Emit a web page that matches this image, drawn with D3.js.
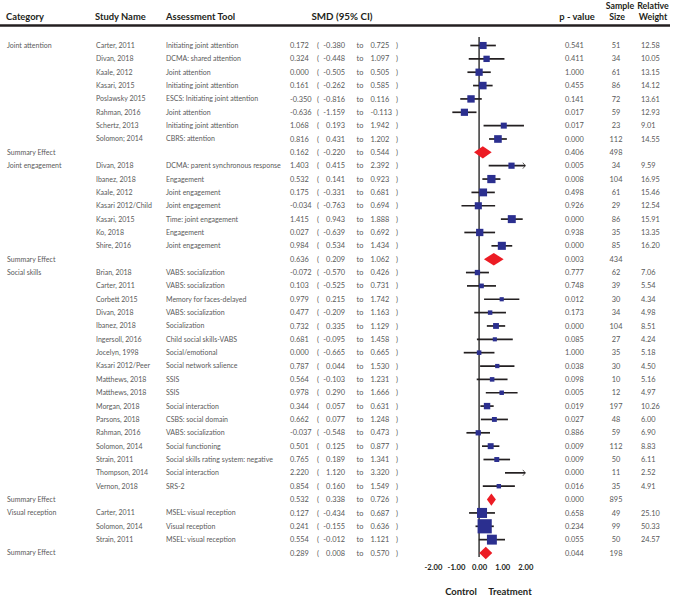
<!DOCTYPE html>
<html><head><meta charset="utf-8">
<script src="https://cdn.jsdelivr.net/npm/d3@7"></script>
<style>body{margin:0;background:#fff} svg{display:block}</style>
</head><body><svg id="c" width="675" height="596"></svg>
<script>
// ---------------- data ----------------
const categories = ["Joint attention", "Joint engagement", "Social skills", "Visual reception"];
const studyCategory = [0,0,0,0,0,0,0,0, 1,1,1,1,1,1,1, 2,2,2,2,2,2,2,2,2,2,2,2,2,2,2,2,2, 3,3,3];
const studyNames = [
  "Carter, 2011","Divan, 2018","Kaale, 2012","Kasari, 2015","Poslawsky 2015","Rahman, 2016","Schertz, 2013","Solomon; 2014",
  "Divan, 2018","Ibanez, 2018","Kaale, 2012","Kasari 2012/Child","Kasari, 2015","Ko, 2018","Shire, 2016",
  "Brian, 2018","Carter, 2011","Corbett 2015","Divan, 2018","Ibanez, 2018","Ingersoll, 2016","Jocelyn, 1998","Kasari 2012/Peer",
  "Matthews, 2018","Matthews, 2018","Morgan, 2018","Parsons, 2018","Rahman, 2016","Solomon, 2014","Strain, 2011","Thompson, 2014","Vernon, 2018",
  "Carter, 2011","Solomon, 2014","Strain, 2011"];
const tools = [
  "Initiating joint attention","DCMA: shared attention","Joint attention","Initiating joint attention","ESCS: Initiating joint attention","Joint attention","Initiating joint attention","CBRS: attention",
  "DCMA: parent synchronous response","Engagement","Joint engagement","Joint engagement","Time: joint engagement","Engagement","Joint engagement",
  "VABS: socialization","VABS: socialization","Memory for faces-delayed","VABS: socialization","Socialization","Child social skills-VABS","Social/emotional","Social network salience",
  "SSIS","SSIS","Social interaction","CSBS: social domain","VABS: socialization","Social functioning","Social skills rating system: negative","Social interaction","SRS-2",
  "MSEL: visual reception","Visual reception","MSEL: visual reception"];
const smd = [0.172,0.324,0.000,0.161,-0.350,-0.636,1.068,0.816,
  1.403,0.532,0.175,-0.034,1.415,0.027,0.984,
  -0.072,0.103,0.979,0.477,0.732,0.681,0.000,0.787,0.564,0.978,0.344,0.662,-0.037,0.501,0.765,2.220,0.854,
  0.127,0.241,0.554];
const ciLow = [-0.380,-0.448,-0.505,-0.262,-0.816,-1.159,0.193,0.431,
  0.415,0.141,-0.331,-0.763,0.943,-0.639,0.534,
  -0.570,-0.525,0.215,-0.209,0.335,-0.095,-0.665,0.044,-0.103,0.290,0.057,0.077,-0.548,0.125,0.189,1.120,0.160,
  -0.434,-0.155,-0.012];
const ciHigh = [0.725,1.097,0.505,0.585,0.116,-0.113,1.942,1.202,
  2.392,0.923,0.681,0.694,1.888,0.692,1.434,
  0.426,0.731,1.742,1.163,1.129,1.458,0.665,1.530,1.231,1.666,0.631,1.248,0.473,0.877,1.341,3.320,1.549,
  0.687,0.636,1.121];
const pValues = [0.541,0.411,1.000,0.455,0.141,0.017,0.017,0.000,
  0.005,0.008,0.498,0.926,0.000,0.938,0.000,
  0.777,0.748,0.012,0.173,0.000,0.085,1.000,0.038,0.098,0.005,0.019,0.027,0.886,0.009,0.009,0.000,0.016,
  0.658,0.234,0.055];
const sampleSizes = [51,34,61,86,72,59,23,112, 34,104,61,29,86,35,85,
  62,39,30,34,104,27,35,30,10,12,197,48,59,112,50,11,35, 49,99,50];
const weights = [12.58,10.05,13.15,14.12,13.61,12.93,9.01,14.55,
  9.59,16.95,15.46,12.54,15.91,13.35,16.20,
  7.06,5.54,4.34,4.98,8.51,4.24,5.18,4.50,5.16,4.97,10.26,6.00,6.90,8.83,6.11,2.52,4.91,
  25.10,50.33,24.57];
const summarySMD = [0.162, 0.636, 0.532, 0.289];
const summaryLow = [-0.220, 0.209, 0.338, 0.008];
const summaryHigh = [0.544, 1.062, 0.726, 0.570];
const summaryP = [0.406, 0.003, 0.000, 0.044];
const summaryN = [498, 434, 895, 198];
const xTicks = [-2, -1, 0, 1, 2];

// ---------------- build rows ----------------
const rows = [];
categories.forEach((cat, ci) => {
  let first = true;
  studyNames.forEach((n, i) => {
    if (studyCategory[i] !== ci) return;
    rows.push({type: "study", cat: first ? cat : "", name: n, tool: tools[i], est: smd[i], lo: ciLow[i], hi: ciHigh[i], p: pValues[i], n: sampleSizes[i], w: weights[i]});
    first = false;
  });
  rows.push({type: "summary", cat: "Summary Effect", name: "", tool: "", est: summarySMD[ci], lo: summaryLow[ci], hi: summaryHigh[ci], p: summaryP[ci], n: summaryN[ci], w: null});
});

const loc = d3.formatLocale({decimal: ".", thousands: ",", grouping: [3], currency: ["", ""], minus: "-"});
const f3 = loc.format(".3f"), f2 = loc.format(".2f");

const svg = d3.select("#c");
const FONT = "Lato, 'Open Sans', sans-serif";
const bodyCol = "#5a5a5a";
const headCol = "#231f20";

const y = d3.scalePoint().domain(d3.range(rows.length)).range([45.5, 553]);
const x = d3.scaleLinear().domain([-2, 2]).range([432.9, 525.3]);

// ---------------- header ----------------
const hdr = svg.append("g").attr("font-family", FONT).attr("font-weight", 700).attr("font-size", 9.4).attr("fill", headCol);
hdr.append("text").attr("x", 6).attr("y", 19.5).text("Category");
hdr.append("text").attr("x", 95).attr("y", 19.5).text("Study Name");
hdr.append("text").attr("x", 166).attr("y", 19.5).text("Assessment Tool");
hdr.append("text").attr("x", 342).attr("y", 19.5).attr("text-anchor", "middle").attr("font-size", 9.8).text("SMD (95% CI)");
hdr.append("text").attr("x", 577).attr("y", 19.5).attr("text-anchor", "middle").text("p - value");
hdr.append("text").attr("x", 620).attr("y", 9).attr("text-anchor", "middle").attr("font-size", 8.8).text("Sample");
hdr.append("text").attr("x", 617).attr("y", 19.5).attr("text-anchor", "middle").attr("font-size", 8.8).text("Size");
hdr.append("text").attr("x", 653).attr("y", 9).attr("text-anchor", "middle").attr("font-size", 8.8).text("Relative");
hdr.append("text").attr("x", 653).attr("y", 19.5).attr("text-anchor", "middle").attr("font-size", 8.8).text("Weight");
svg.append("line").attr("x1", 0).attr("x2", 670).attr("y1", 25.5).attr("y2", 25.5)
  .attr("stroke", headCol).attr("stroke-width", 2.5);

// ---------------- text table ----------------
const tbl = svg.append("g").attr("font-family", FONT).attr("font-size", 7).attr("fill", bodyCol);
const rg = tbl.selectAll("g.row").data(rows).join("g").attr("class", "row")
  .attr("transform", (d, i) => `translate(0,${y(i)})`);
rg.append("text").attr("x", 7).attr("dy", "0.35em").text(d => d.cat);
rg.append("text").attr("x", 96).attr("dy", "0.35em").text(d => d.name);
rg.append("text").attr("x", 166).attr("dy", "0.35em").text(d => d.tool);
rg.append("text").attr("x", 290).attr("dy", "0.35em").attr("font-size", 7.4).text(d => f3(d.est));
rg.append("text").attr("x", 317).attr("dy", "0.35em").attr("font-size", 7.4).text("(");
rg.append("text").attr("x", 345).attr("dy", "0.35em").attr("font-size", 7.4).attr("text-anchor", "end").text(d => f3(d.lo));
rg.append("text").attr("x", 356.5).attr("dy", "0.35em").attr("font-size", 7.4).text("to");
rg.append("text").attr("x", 370.5).attr("dy", "0.35em").attr("font-size", 7.4).text(d => f3(d.hi));
rg.append("text").attr("x", 396).attr("dy", "0.35em").attr("font-size", 7.4).text(")");
rg.append("text").attr("x", 565).attr("dy", "0.35em").attr("font-size", 7.4).text(d => f3(d.p));
rg.append("text").attr("x", 616).attr("dy", "0.35em").attr("font-size", 7.4).attr("text-anchor", "middle").text(d => d.n);
rg.append("text").attr("x", 641).attr("dy", "0.35em").attr("font-size", 7.4).text(d => d.w == null ? "" : f2(d.w));

// ---------------- forest plot ----------------
const plot = svg.append("g");
plot.append("line").attr("x1", x(0)).attr("x2", x(0)).attr("y1", 37).attr("y2", 557)
  .attr("stroke", "#444").attr("stroke-width", 1.6);

const [dMin, dMax] = x.domain();
rows.forEach((d, i) => {
  const cy = y(i);
  if (d.type === "study") {
    const lo = Math.max(d.lo, dMin), hi = Math.min(d.hi, dMax);
    plot.append("line").attr("x1", x(lo)).attr("x2", x(hi)).attr("y1", cy).attr("y2", cy)
      .attr("stroke", "#231f20").attr("stroke-width", 1.7);
    if (d.hi > dMax) {
      plot.append("path").attr("d", `M${x(dMax) - 2.5},${cy - 3}L${x(dMax)},${cy}L${x(dMax) - 2.5},${cy + 3}`)
        .attr("fill", "none").attr("stroke", "#231f20").attr("stroke-width", 0.7);
    }
    if (d.est >= dMin && d.est <= dMax) {
      const s = 2 * Math.sqrt(d.w);
      plot.append("rect").attr("x", x(d.est) - s / 2).attr("y", cy - s / 2).attr("width", s).attr("height", s)
        .attr("fill", "#2b2f8f");
    }
  } else {
    const h = 6.2;
    plot.append("path")
      .attr("d", `M${x(d.lo)},${cy}L${x(d.est)},${cy - h}L${x(d.hi)},${cy}L${x(d.est)},${cy + h}Z`)
      .attr("fill", "#ec1c24");
  }
});

// axis tick labels
const ax = svg.append("g").attr("font-family", FONT).attr("font-weight", 700).attr("font-size", 7.6).attr("fill", headCol);
ax.selectAll("text").data(xTicks).join("text")
  .attr("x", d => x(d) + 0.5).attr("y", 569.5).attr("text-anchor", "middle").text(d => f2(d));

svg.append("text").attr("x", 461).attr("y", 595).attr("text-anchor", "middle")
  .attr("font-family", FONT).attr("font-weight", 700).attr("font-size", 9.5).attr("fill", headCol).text("Control");
svg.append("text").attr("x", 510).attr("y", 595).attr("text-anchor", "middle")
  .attr("font-family", FONT).attr("font-weight", 700).attr("font-size", 9.5).attr("fill", headCol).text("Treatment");
</script></body></html>
